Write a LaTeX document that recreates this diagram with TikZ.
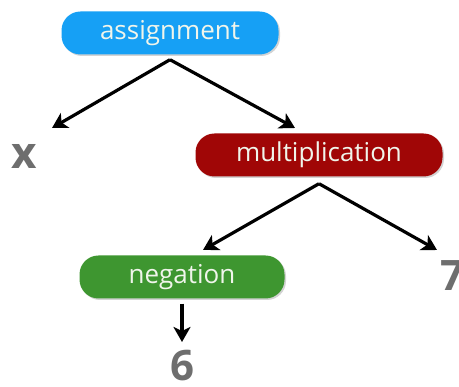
\documentclass[tikz,border=0pt]{standalone}
\usepackage{fontspec}
\setmainfont{Open Sans}
\usetikzlibrary{shadows,arrows.meta}
\definecolor{cblue}{RGB}{22,160,245}
\definecolor{cred}{RGB}{160,6,6}
\definecolor{cgreen}{RGB}{62,150,48}
\definecolor{cgray}{RGB}{110,110,110}
\definecolor{ctext}{RGB}{240,245,235}
\begin{document}
\begin{tikzpicture}[x=1pt,y=-1pt,
  pill/.style={rounded corners=19pt, minimum height=43pt, text=ctext, font=\fontsize{26}{28}\selectfont,
    drop shadow={opacity=0.35, shadow xshift=1.5pt, shadow yshift=-1.5pt}},
  leaf/.style={text=cgray, font=\bfseries\fontsize{42}{44}\selectfont, inner sep=0pt},
  arr/.style={line width=3.2pt, -{Stealth[length=15pt,width=17pt,inset=4pt]}}]
\useasboundingbox (0,0) rectangle (459,387);
\node[pill, fill=cblue, minimum width=217pt] (assign) at (170,33) {assignment};
\node[pill, fill=cred, minimum width=247pt] (mult) at (319,155) {multiplication};
\node[pill, fill=cgreen, minimum width=205pt] (neg) at (182,277) {negation};
\node[leaf, font=\bfseries\fontsize{44}{44}\selectfont] (x) at (24,156) {x};
\node[leaf] (seven) at (452,276) {7};
\node[leaf] (six) at (182,366) {6};
\coordinate (ax) at (52,128);
\coordinate (am) at (295,128);
\coordinate (mn) at (203,250);
\coordinate (m7) at (437,250);
\coordinate (n6) at (182,342);
\draw[arr] ([yshift=-5pt]assign.south) -- (ax);
\draw[arr] ([yshift=-5pt]assign.south) -- (am);
\draw[arr] ([yshift=-7pt]mult.south) -- (mn);
\draw[arr] ([yshift=-7pt]mult.south) -- (m7);
\draw[arr] ([yshift=-5pt]neg.south) -- (n6);
\end{tikzpicture}
\end{document}
